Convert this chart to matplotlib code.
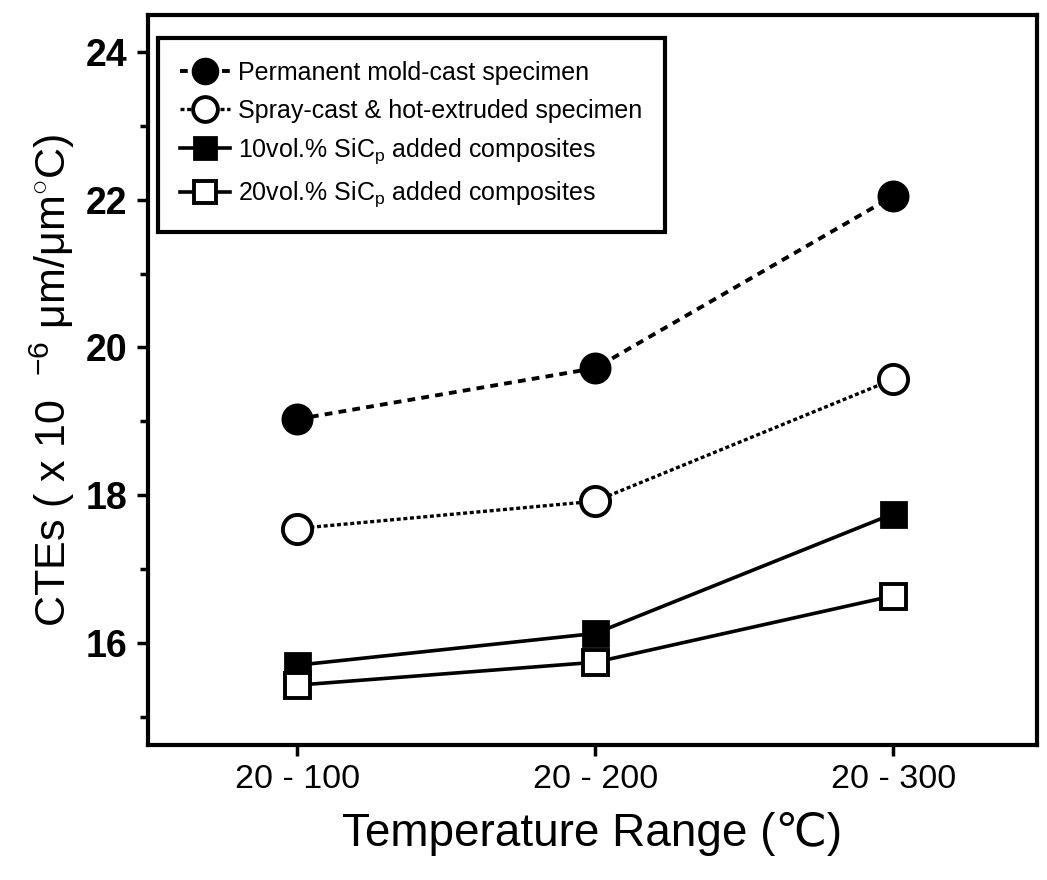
import matplotlib
matplotlib.use("Agg")
import matplotlib.pyplot as plt
from matplotlib.ticker import MultipleLocator

plt.rcParams['font.family'] = ['Liberation Sans', 'DejaVu Sans']
plt.rcParams['mathtext.fontset'] = 'custom'
plt.rcParams['mathtext.rm'] = 'Liberation Sans'

# data
ranges = ['20 - 100', '20 - 200', '20 - 300']
perm_mold = [19.03, 19.72, 22.05]
spray_cast = [17.55, 17.92, 19.57]
sic10 = [15.7, 16.13, 17.75]
sic20 = [15.43, 15.74, 16.64]

labels = ['Permanent mold-cast specimen',
          'Spray-cast & hot-extruded specimen',
          r'10vol.% SiC$_\mathregular{p}$ added composites',
          r'20vol.% SiC$_\mathregular{p}$ added composites']

fig = plt.figure(figsize=(10.47, 8.8), dpi=100)
ax = fig.add_axes([0.1414, 0.1534, 0.8486, 0.8296])

x = list(range(len(ranges)))
ax.plot(x, perm_mold, color='black', lw=2.8, ls=(0, (2.0, 1.6)), marker='o', ms=21,
        mfc='black', mec='black', mew=2, label=labels[0])
ax.plot(x, spray_cast, color='black', lw=2.4, ls=(0, (1.2, 0.8)), marker='o', ms=21,
        mfc='white', mec='black', mew=2.8, label=labels[1])
ax.plot(x, sic10, color='black', lw=2.6, ls='-', marker='s', ms=18,
        mfc='black', mec='black', mew=2, label=labels[2])
ax.plot(x, sic20, color='black', lw=2.6, ls='-', marker='s', ms=18,
        mfc='white', mec='black', mew=2.8, label=labels[3])

ax.set_xlim(-0.5, 2.48)
ax.set_ylim(14.62, 24.5)
ax.set_xticks(x)
ax.set_xticklabels(ranges, fontsize=24.5)
ax.yaxis.set_major_locator(MultipleLocator(2))
ax.yaxis.set_minor_locator(MultipleLocator(1))
for lab in ax.get_yticklabels():
    lab.set_fontweight('bold')
    lab.set_fontsize(27)

ax.tick_params(axis='both', which='major', direction='out', length=8, width=2.5)
ax.tick_params(axis='y', which='minor', direction='out', length=6, width=2.5)
ax.tick_params(axis='y', pad=7)
ax.tick_params(axis='x', pad=6)
for s in ax.spines.values():
    s.set_linewidth(3)

ax.set_xlabel('Temperature Range (℃)', fontsize=33, labelpad=12)
ax.set_ylabel(r'CTEs ( x 10  $^{-6}$ μm/μm$^{\circ}$C)', fontsize=31, labelpad=6)

leg = ax.legend(loc='upper left', bbox_to_anchor=(0.011, 0.968), borderaxespad=0,
                fontsize=18, frameon=True, fancybox=False, edgecolor='black',
                framealpha=1, handlelength=2.0, handletextpad=0.3, borderpad=0.9,
                labelspacing=0.55, markerscale=0.85)
leg.get_frame().set_linewidth(3)

fig.savefig('out.png', dpi=100)
